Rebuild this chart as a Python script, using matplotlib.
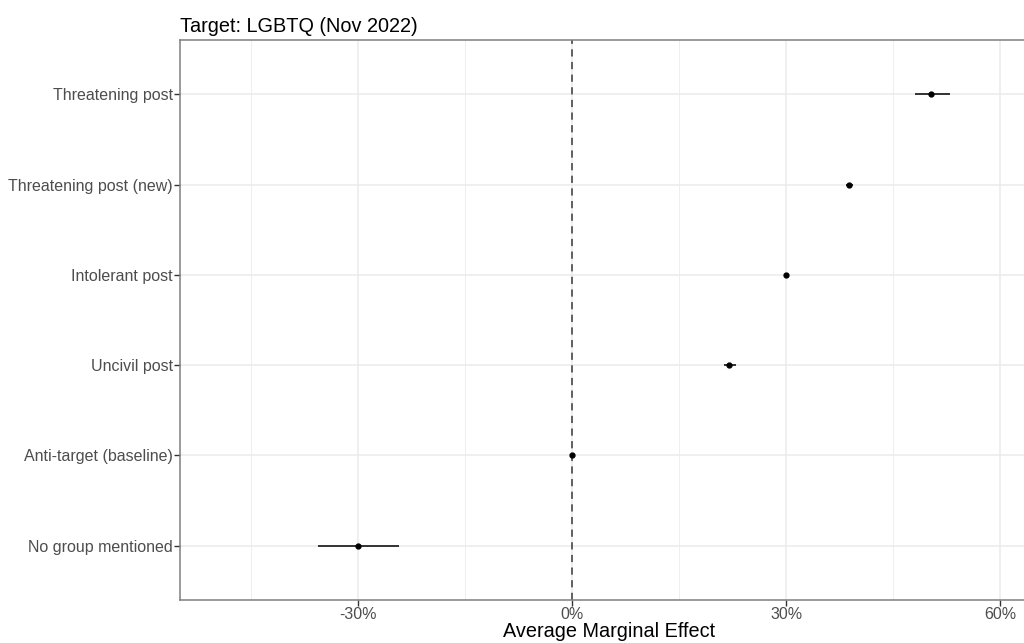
import matplotlib.pyplot as plt
import numpy as np

plt.rcParams['font.family'] = ['Liberation Sans', 'DejaVu Sans']

categories = ["Threatening post", "Threatening post (new)", "Intolerant post",
              "Uncivil post", "Anti-target (baseline)", "No group mentioned"]
effect = [50.3, 38.8, 30.0, 22.0, 0.0, -30.0]
ci_low = [48.0, 38.3, 29.8, 21.2, -0.2, -35.7]
ci_high = [52.9, 39.4, 30.2, 22.9, 0.2, -24.3]
xticks = [-30, 0, 30, 60]
xticklabels = ["-30%", "0%", "30%", "60%"]

fig = plt.figure(figsize=(10.24, 6.43), dpi=100)
# panel runs past the right edge of the figure
ax = fig.add_axes([180 / 1024, 43 / 643, 856 / 1024, 560 / 643])

ypos = np.arange(len(categories))[::-1] + 1

ax.set_xlim(-55, 65)
ax.set_ylim(0.4, len(categories) + 0.6)

for x in [-45, -15, 15, 45]:
    ax.axvline(x, color='#EBEBEB', lw=0.6, zorder=0)
for x in xticks:
    ax.axvline(x, color='#EBEBEB', lw=1.1, zorder=0)
for y in ypos:
    ax.axhline(y, color='#EBEBEB', lw=1.1, zorder=0)

ax.axvline(0, color='#555555', lw=1.3, ls=(0, (4, 3)), zorder=1)

ax.hlines(ypos, ci_low, ci_high, color='black', lw=1.1, zorder=2)
ax.plot(effect, ypos, 'o', color='black', ms=3.5, zorder=3)

ax.set_yticks(ypos)
ax.set_yticklabels(categories)
ax.set_xticks(xticks)
ax.set_xticklabels(xticklabels)
ax.tick_params(axis='both', colors='#333333', labelcolor='#4D4D4D',
               labelsize=11.5, length=4, width=1)
ax.tick_params(axis='x', pad=1)
ax.tick_params(axis='y', pad=1)

for s in ax.spines.values():
    s.set_color('#7F7F7F')
    s.set_linewidth(1.1)

fig.text(609 / 1024, 1 - 637 / 643, "Average Marginal Effect", fontsize=14.3,
         color='black', ha='center', va='baseline')
fig.text(180 / 1024, 1 - 32 / 643, "Target: LGBTQ (Nov 2022)", fontsize=14.3,
         color='black', ha='left', va='baseline')

fig.savefig("out.png", dpi=100)
